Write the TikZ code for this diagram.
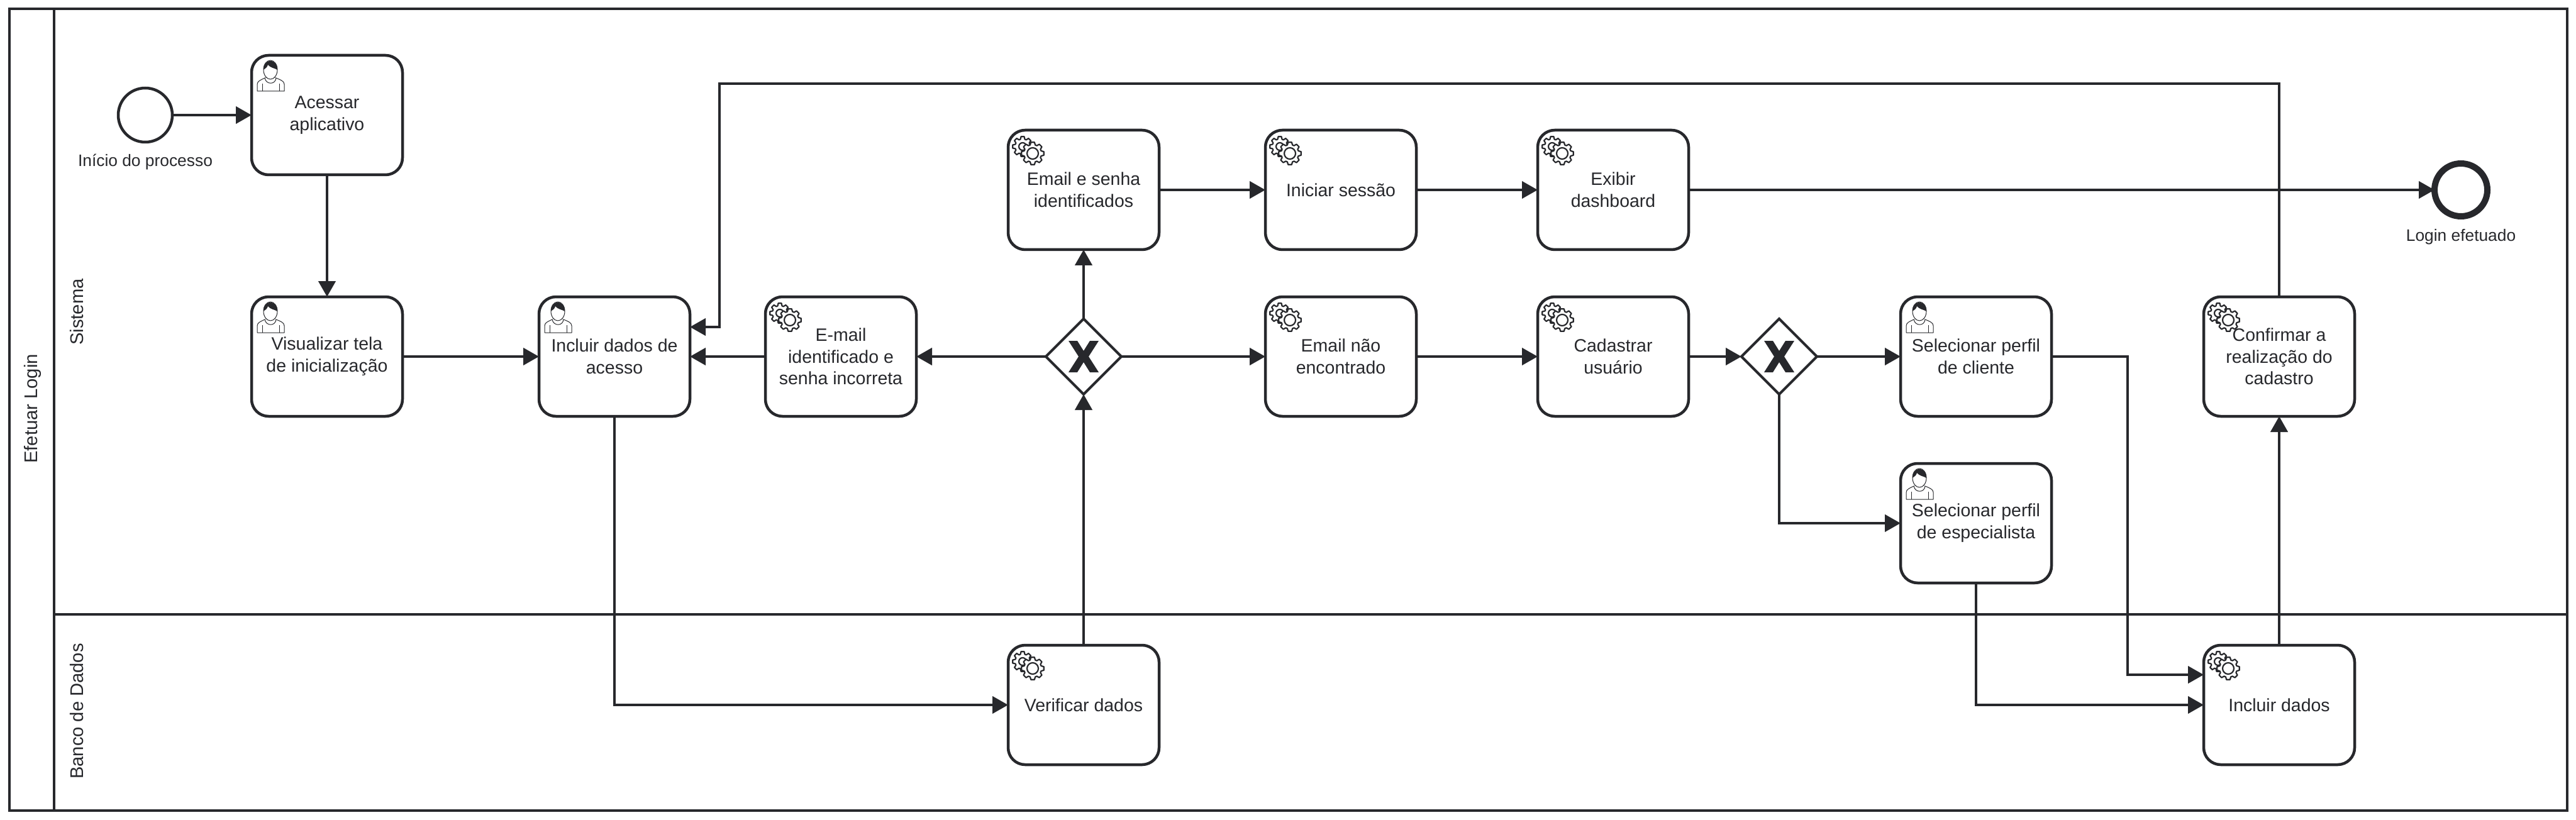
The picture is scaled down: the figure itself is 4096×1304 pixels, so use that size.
\documentclass[tikz,border=0pt]{standalone}
\usepackage{fontspec}
\setmainfont{Liberation Sans}
\usetikzlibrary{arrows.meta,shapes.geometric}
\definecolor{bpmnline}{HTML}{27282C}

\tikzset{
    lane/.style={draw=bpmnline, line width=0.45mm},
    lanelabel/.style={rotate=90, text=bpmnline, font=\fontsize{8.3}{10}\selectfont},
    tarefa/.style={rectangle, rounded corners=2.7mm, draw=bpmnline, line width=0.45mm, fill=white,
        minimum width=24mm, minimum height=19mm, inner sep=0pt, outer sep=0pt,
        align=center, text=bpmnline, font=\fontsize{8.1}{9.9}\selectfont},
    gateway/.style={diamond, draw=bpmnline, line width=0.4mm, fill=white,
        minimum width=12mm, minimum height=12mm, inner sep=0pt, outer sep=0pt},
    inicio/.style={circle, draw=bpmnline, line width=0.45mm, fill=white, minimum size=8.6mm, inner sep=0pt, outer sep=0pt},
    fim/.style={circle, draw=bpmnline, line width=1mm, fill=white, minimum size=8.4mm, inner sep=0pt, outer sep=0pt},
    rotulo/.style={text=bpmnline, font=\fontsize{7.5}{9.4}\selectfont},
    fluxo/.style={draw=bpmnline, line width=0.45mm, -{Triangle[length=2.5mm,width=2.7mm]}},
    iconline/.style={draw=bpmnline, line width=0.22mm, fill=white, line join=round},
    usericon/.pic={
        \draw[iconline, line width=0.1mm] (9,57) -- (9,46) .. controls (9,41) and (15,39) .. (21,36)
            -- (39,36) .. controls (46,39) and (52,41) .. (52,46) -- (52,57) -- cycle;
        \draw[iconline, line width=0.1mm] (21,36) .. controls (23,47) and (38,47) .. (39,36);
        \draw[iconline, line width=0.1mm] (17,45) -- (17,57) (44,45) -- (44,57);
        \draw[iconline, line width=0.1mm] (30,23) ellipse (11 and 15);
        \fill[bpmnline] (19,23) .. controls (18,4) and (42,4) .. (41,23)
            .. controls (36,20) and (30,20) .. (26,15) .. controls (25,19) and (22,21) .. (19,23) -- cycle;
    },
    gearicon/.pic={
        \draw[iconline, shift={(23,26)}] (-17:12) \foreach \a in {0,45,...,315}{
            -- (\a-17:12) -- (\a-9:16) -- (\a+9:16) -- (\a+17:12)} -- cycle;
        \draw[iconline, shift={(23,26)}] (0,0) circle (6);
        \draw[iconline, shift={(39,37)}] (-17:14) \foreach \a in {0,45,...,315}{
            -- (\a-17:14) -- (\a-9:18) -- (\a+9:18) -- (\a+17:14)} -- cycle;
        \draw[iconline, shift={(39,37)}] (0,0) circle (9);
    },
    xicon/.pic={
        \fill[bpmnline] (-24,-25) -- (-10,-25) -- (0,-9) -- (10,-25) -- (24,-25) -- (8,0)
            -- (24,25) -- (10,25) -- (0,9) -- (-10,25) -- (-24,25) -- (-8,0) -- cycle;
    }
}

\begin{document}
\begin{tikzpicture}[x=0.1mm, y=-0.1mm]
            \useasboundingbox (0,0) rectangle (4096,1304);

            % pool e raias
            \draw[lane] (15,14) rectangle (4082,1289);
            \draw[lane] (86,14) -- (86,1289);
            \draw[lane] (86,977) -- (4082,977);

            \node[lanelabel] (pool) at (52,650) {Efetuar Login};
            \node[lanelabel] (sistema) at (122,496) {Sistema};
            \node[lanelabel] (banco) at (122,1131) {Banco de Dados};

            % eventos
            \node[inicio] (start) at (231,183) {};
            \node[rotulo] (startlab) at (231,258) {Início do processo};
            \node[fim] (end) at (3913,302) {};
            \node[rotulo] (endlab) at (3913,377) {Login efetuado};

            % tarefas
            \node[tarefa] (acessar) at (520,183) {Acessar\\aplicativo};
            \node[tarefa] (visualizar) at (520,567) {Visualizar tela\\de inicialização};
            \node[tarefa] (acesso) at (977,567) {Incluir dados de\\acesso};
            \node[tarefa] (incorreta) at (1337,567) {E-mail\\identificado e\\senha incorreta};
            \node[tarefa] (identificados) at (1723,302) {Email e senha\\identificados};
            \node[tarefa] (verificar) at (1723,1121) {Verificar dados};
            \node[tarefa] (sessao) at (2132,302) {Iniciar sessão};
            \node[tarefa] (dashboard) at (2565,302) {Exibir\\dashboard};
            \node[tarefa] (naoencontrado) at (2132,567) {Email não\\encontrado};
            \node[tarefa] (cadastrar) at (2565,567) {Cadastrar\\usuário};
            \node[tarefa] (cliente) at (3142,567) {Selecionar perfil\\de cliente};
            \node[tarefa] (especialista) at (3142,832) {Selecionar perfil\\de especialista};
            \node[tarefa] (confirmar) at (3624,567) {Confirmar a\\realização do\\cadastro};
            \node[tarefa] (dados) at (3624,1121) {Incluir dados};

            % gateways
            \node[gateway] (gw1) at (1723,567) {};
            \node[gateway] (gw2) at (2829,567) {};
            \foreach \g in {gw1,gw2}{
                \pic at (\g) {xicon};
            }

            % icones
            \foreach \t in {acessar,visualizar,acesso,cliente,especialista}{
                \pic at (\t.north west) {usericon};
            }
            \foreach \t in {incorreta,identificados,verificar,sessao,dashboard,naoencontrado,cadastrar,confirmar,dados}{
                \pic at (\t.north west) {gearicon};
            }

            % pontos de passagem
            \coordinate (retA) at (1144,133);
            \coordinate (retB) at (977,520);
            \coordinate (perfilA) at (3383,1073);
            \coordinate (perfilB) at (3504,1073);

            % fluxos
            \draw[fluxo] (start) to (acessar);
            \draw[fluxo] (acessar) to (visualizar);
            \draw[fluxo] (visualizar) to (acesso);
            \draw[fluxo] (acesso.south) |- (verificar.west);
            \draw[fluxo] (verificar) to (gw1);
            \draw[fluxo] (gw1) to (incorreta);
            \draw[fluxo] (incorreta) to (acesso);
            \draw[fluxo] (gw1) to (identificados);
            \draw[fluxo] (gw1) to (naoencontrado);
            \draw[fluxo] (identificados) to (sessao);
            \draw[fluxo] (sessao) to (dashboard);
            \draw[fluxo] (dashboard) to (end);
            \draw[fluxo] (naoencontrado) to (cadastrar);
            \draw[fluxo] (cadastrar) to (gw2);
            \draw[fluxo] (gw2) to (cliente);
            \draw[fluxo] (gw2.south) |- (especialista.west);
            \draw[fluxo] (cliente.east) -| (perfilA) -- (perfilB);
            \draw[fluxo] (especialista.south) |- (dados.west);
            \draw[fluxo] (dados) to (confirmar);
            \draw[fluxo] (confirmar.north) |- (retA) |- (acesso.east |- retB);
        \end{tikzpicture}
\end{document}
